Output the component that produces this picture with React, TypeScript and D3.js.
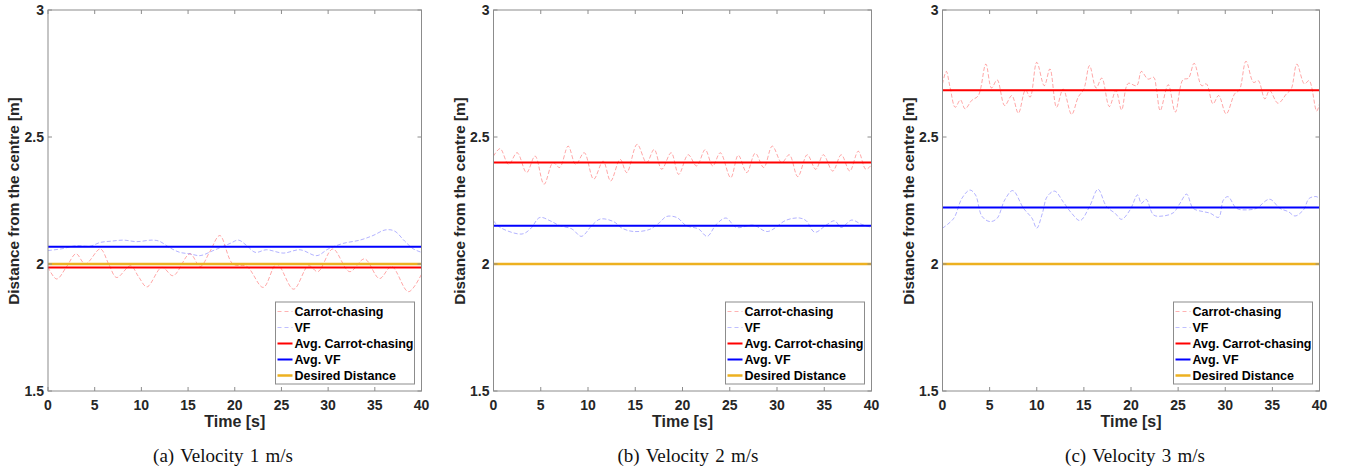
import React from "react";
import * as d3 from "d3";

const ccTime1 = [0, 0.93, 2.0, 3.0, 4.0, 5.6, 6.5, 7.35, 8.85, 9.7, 10.6, 12.2, 13.4, 15.2, 16.3, 17.35, 18.4, 19.8, 21.3, 23.05, 24.5, 26.3, 27.9, 28.9, 30.5, 32.3, 33.9, 35.5, 36.8, 38.6, 40];
const ccDist1 = [1.987, 1.941, 1.99, 2.04, 2.0, 2.059, 2.0, 1.947, 1.993, 1.95, 1.91, 1.987, 1.954, 2.04, 1.99, 2.05, 2.112, 2.0, 1.99, 1.908, 2.0, 1.901, 1.993, 1.97, 2.059, 1.97, 2.02, 1.943, 1.99, 1.891, 1.96];
const vfTime1 = [0, 1.5, 3.0, 4.5, 5.6, 6.8, 8.1, 9.5, 11.1, 11.9, 13.0, 14.1, 15.2, 16.3, 17.7, 19.5, 20.4, 21.3, 22.2, 23.4, 25.2, 27.0, 28.8, 30.0, 31.6, 33.4, 34.8, 36.1, 37.1, 38.2, 39.1, 40];
const vfDist1 = [2.053, 2.06, 2.072, 2.07, 2.085, 2.09, 2.094, 2.088, 2.094, 2.09, 2.065, 2.046, 2.04, 2.033, 2.053, 2.081, 2.094, 2.072, 2.046, 2.056, 2.043, 2.056, 2.033, 2.059, 2.081, 2.094, 2.112, 2.134, 2.13, 2.09, 2.06, 2.046];

const ccTime2 = [0, 0.7, 1.6, 2.5, 3.5, 4.4, 5.35, 6.3, 7.0, 7.9, 8.7, 9.6, 10.6, 11.6, 12.4, 13.4, 14.1, 15.2, 16.2, 17.0, 17.8, 18.8, 19.6, 20.6, 21.5, 22.4, 23.2, 24.0, 25.1, 25.9, 26.8, 27.7, 28.6, 29.5, 30.5, 31.3, 32.2, 33.2, 34.1, 34.9, 35.9, 36.8, 37.7, 38.6, 39.4, 40];
const ccDist2 = [2.425, 2.454, 2.392, 2.438, 2.36, 2.425, 2.314, 2.399, 2.38, 2.464, 2.392, 2.438, 2.334, 2.405, 2.327, 2.412, 2.36, 2.471, 2.399, 2.451, 2.373, 2.438, 2.353, 2.43, 2.386, 2.45, 2.386, 2.438, 2.34, 2.428, 2.36, 2.436, 2.38, 2.464, 2.399, 2.43, 2.344, 2.43, 2.373, 2.43, 2.366, 2.43, 2.366, 2.444, 2.373, 2.39];
const vfTime2 = [0, 0.7, 3.0, 3.9, 4.9, 6.0, 7.0, 8.3, 9.3, 10.4, 11.3, 12.7, 13.6, 14.8, 16.5, 17.6, 18.3, 19.4, 20.4, 21.7, 22.6, 23.6, 24.6, 25.7, 27.5, 29.0, 31.0, 32.4, 33.1, 34.0, 35.2, 36.1, 36.8, 37.9, 38.9, 40];
const vfDist2 = [2.17, 2.144, 2.118, 2.138, 2.183, 2.17, 2.151, 2.138, 2.109, 2.151, 2.177, 2.167, 2.141, 2.128, 2.136, 2.164, 2.187, 2.183, 2.151, 2.138, 2.109, 2.157, 2.181, 2.144, 2.153, 2.128, 2.173, 2.181, 2.17, 2.125, 2.153, 2.17, 2.144, 2.173, 2.157, 2.144];

const ccTime3 = [0, 0.4, 0.8, 1.35, 1.9, 2.4, 3.1, 3.8, 4.6, 5.2, 5.8, 6.6, 7.35, 8.05, 8.8, 9.3, 10.0, 10.8, 11.4, 12.1, 12.8, 13.7, 14.4, 15.0, 15.6, 16.3, 16.9, 17.7, 18.4, 19.0, 19.7, 20.6, 21.1, 21.8, 22.4, 22.7, 23.1, 23.95, 24.7, 25.5, 26.1, 26.7, 27.5, 28.0, 28.7, 29.3, 30.1, 31.0, 31.5, 32.2, 33.0, 33.5, 34.2, 34.7, 35.6, 36.5, 37.0, 37.6, 38.4, 38.9, 39.7, 40];
const ccDist3 = [2.709, 2.758, 2.696, 2.617, 2.646, 2.611, 2.644, 2.663, 2.787, 2.693, 2.725, 2.624, 2.663, 2.594, 2.685, 2.657, 2.794, 2.702, 2.768, 2.617, 2.689, 2.589, 2.657, 2.689, 2.781, 2.693, 2.732, 2.62, 2.683, 2.607, 2.711, 2.702, 2.758, 2.728, 2.735, 2.689, 2.604, 2.706, 2.598, 2.725, 2.732, 2.79, 2.702, 2.709, 2.631, 2.663, 2.591, 2.67, 2.685, 2.798, 2.715, 2.722, 2.65, 2.683, 2.633, 2.67, 2.689, 2.787, 2.709, 2.722, 2.602, 2.631];
const vfTime3 = [0, 1.2, 2.05, 2.9, 3.5, 4.2, 5.05, 5.8, 6.6, 7.45, 8.6, 9.5, 10.0, 10.6, 11.1, 11.9, 12.8, 13.7, 14.6, 15.6, 16.5, 17.4, 18.3, 19.0, 19.9, 20.7, 21.1, 21.6, 22.4, 23.4, 24.5, 25.2, 25.9, 26.6, 27.7, 28.4, 29.3, 29.8, 30.3, 31.2, 32.3, 33.3, 34.7, 35.8, 36.7, 37.4, 38.3, 38.9, 39.7, 40];
const vfDist3 = [2.141, 2.18, 2.258, 2.291, 2.272, 2.187, 2.167, 2.18, 2.252, 2.289, 2.219, 2.18, 2.141, 2.2, 2.265, 2.287, 2.245, 2.2, 2.171, 2.226, 2.294, 2.226, 2.2, 2.176, 2.213, 2.272, 2.239, 2.255, 2.193, 2.189, 2.202, 2.239, 2.275, 2.219, 2.206, 2.2, 2.184, 2.252, 2.265, 2.219, 2.213, 2.219, 2.255, 2.219, 2.206, 2.189, 2.213, 2.258, 2.265, 2.255];

const avgCarrot = [1.986, 2.4, 2.684];
const avgVF = [2.068, 2.151, 2.222];
const desired = 2;

const xTicks = [0, 5, 10, 15, 20, 25, 30, 35, 40];
const yTicks = [1.5, 2, 2.5, 3];
const yTickLabels = ["1.5", "2", "2.5", "3"];
const legendLabels = ["Carrot-chasing", "VF", "Avg. Carrot-chasing", "Avg. VF", "Desired Distance"];
const captionTags = ["(a)", "(b)", "(c)"];
const captions = ["Velocity 1 m/s", "Velocity 2 m/s", "Velocity 3 m/s"];

const panels = [
  { left: 48, right: 421.5, caption: 223, cc: [ccTime1, ccDist1], vf: [vfTime1, vfDist1] },
  { left: 493.5, right: 871.5, caption: 688, cc: [ccTime2, ccDist2], vf: [vfTime2, vfDist2] },
  { left: 942.5, right: 1319.5, caption: 1135, cc: [ccTime3, ccDist3], vf: [vfTime3, vfDist3] },
];

const top = 10;
const bottom = 391;
const font = "'Liberation Sans', Arial, Helvetica, sans-serif";
const axisColor = "#8c8c8c";
const orange = "#EDB120";

function Panel({ p, i }: { p: any; i: number }) {
  const x = d3.scaleLinear().domain([0, 40]).range([p.left, p.right]);
  const y = d3.scaleLinear().domain([1.5, 3]).range([bottom, top]);
  const path = (times: number[], vals: number[]) =>
    d3
      .line<number>()
      .x((d) => x(d))
      .y((d, k) => y(vals[k]))
      .curve(d3.curveCatmullRom)(times);

  const lw = 139;
  const lh = 82;
  const lx = p.right - 7 - lw;
  const ly = bottom - 7 - lh;
  const legendStyles = [
    { stroke: "#ff0000", op: 0.3, dash: "4 3", w: 1 },
    { stroke: "#0000ff", op: 0.25, dash: "4 3", w: 1 },
    { stroke: "#ff0000", op: 1, dash: null, w: 2 },
    { stroke: "#0000ff", op: 1, dash: null, w: 2 },
    { stroke: orange, op: 1, dash: null, w: 2.5 },
  ];

  return (
    <g>
      <path d={path(p.cc[0], p.cc[1]) || ""} fill="none" stroke="#ff0000" strokeOpacity={0.35} strokeWidth={1} strokeDasharray="4 2" />
      <path d={path(p.vf[0], p.vf[1]) || ""} fill="none" stroke="#0000ff" strokeOpacity={0.3} strokeWidth={1} strokeDasharray="4 2" />
      <line x1={x(0)} x2={x(40)} y1={y(avgCarrot[i])} y2={y(avgCarrot[i])} stroke="#ff0000" strokeWidth={2} />
      <line x1={x(0)} x2={x(40)} y1={y(avgVF[i])} y2={y(avgVF[i])} stroke="#0000ff" strokeWidth={2} />
      <line x1={x(0)} x2={x(40)} y1={y(desired)} y2={y(desired)} stroke={orange} strokeWidth={2.5} />

      <rect x={p.left} y={top} width={p.right - p.left} height={bottom - top} fill="none" stroke={axisColor} strokeWidth={1} />
      {xTicks.map((t) => (
        <g key={"x" + t}>
          <line x1={x(t)} x2={x(t)} y1={bottom} y2={bottom - 4} stroke={axisColor} />
          <line x1={x(t)} x2={x(t)} y1={top} y2={top + 4} stroke={axisColor} />
          <text x={x(t)} y={410} textAnchor="middle" fontFamily={font} fontWeight="bold" fontSize={14} fill="#262626">
            {t}
          </text>
        </g>
      ))}
      {yTicks.map((t, k) => (
        <g key={"y" + t}>
          <line x1={p.left} x2={p.left + 4} y1={y(t)} y2={y(t)} stroke={axisColor} />
          <line x1={p.right} x2={p.right - 4} y1={y(t)} y2={y(t)} stroke={axisColor} />
          <text x={p.left - 4} y={y(t)} dy="0.36em" textAnchor="end" fontFamily={font} fontWeight="bold" fontSize={14} fill="#262626">
            {yTickLabels[k]}
          </text>
        </g>
      ))}
      <text
        transform={`translate(${p.left - 34.5},201) rotate(-90)`}
        textAnchor="middle"
        dy="0.36em"
        fontFamily={font}
        fontWeight="bold"
        fontSize={15.3}
        fill="#262626"
      >
        Distance from the centre [m]
      </text>
      <text x={(p.left + p.right) / 2} y={427} textAnchor="middle" fontFamily={font} fontWeight="bold" fontSize={16} fill="#262626">
        Time [s]
      </text>
      <text
        x={p.caption}
        y={462}
        textAnchor="middle"
        fontFamily="'Liberation Serif', 'Times New Roman', serif"
        fontSize={19}
        wordSpacing={1.5}
        fill="#111"
      >
        <tspan>{captionTags[i]}</tspan>
        <tspan dx={6}>{captions[i]}</tspan>
      </text>

      <rect x={lx} y={ly} width={lw} height={lh} fill="#fff" stroke={axisColor} strokeWidth={1} />
      {legendLabels.map((lab, k) => {
        const s = legendStyles[k];
        const cy = ly + 9.5 + k * 16;
        return (
          <g key={lab}>
            <line x1={lx + 2} x2={lx + 17} y1={cy} y2={cy} stroke={s.stroke} strokeOpacity={s.op} strokeWidth={s.w} strokeDasharray={s.dash || undefined} />
            <text x={lx + 19} y={cy} dy="0.36em" fontFamily={font} fontWeight="bold" fontSize={12.5} fill="#000">
              {lab}
            </text>
          </g>
        );
      })}
    </g>
  );
}

export default function App() {
  return (
    <svg width={1347} height={470} style={{ position: "absolute", left: 0, top: 0, background: "#fff" }}>
      {panels.map((p, i) => (
        <Panel key={i} p={p} i={i} />
      ))}
    </svg>
  );
}
